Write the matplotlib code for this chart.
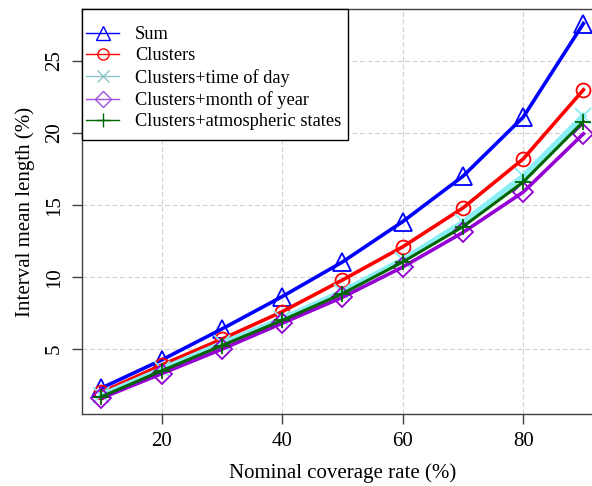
import matplotlib
matplotlib.use("Agg")
import matplotlib.pyplot as plt
from matplotlib.lines import Line2D
from matplotlib.patches import Rectangle

# Nominal coverage rates and interval mean lengths (%)
coverage = [10, 20, 30, 40, 50, 60, 70, 80, 90]
sum_len = [2.3, 4.25, 6.4, 8.65, 11.05, 13.85, 17.0, 21.1, 27.6]
clusters = [2.0, 3.9, 5.7, 7.6, 9.8, 12.1, 14.8, 18.2, 23.0]
clusters_tod = [1.8, 3.6, 5.4, 7.1, 9.0, 11.2, 13.8, 17.0, 21.2]
clusters_moy = [1.6, 3.3, 5.0, 6.8, 8.6, 10.7, 13.1, 15.9, 19.95]
clusters_atm = [1.7, 3.5, 5.25, 7.0, 8.85, 11.05, 13.5, 16.6, 20.8]

labels = ["Sum", "Clusters", "Clusters+time of day",
          "Clusters+month of year", "Clusters+atmospheric states"]
xticks = [20, 40, 60, 80]
yticks = [5, 10, 15, 20, 25]

plt.rcParams["font.family"] = ["Liberation Serif", "DejaVu Serif"]

fig = plt.figure(figsize=(5.92, 4.86), dpi=100)
ax = fig.add_axes([0.1385, 0.148, 0.8796, 0.8333])

series = [
    (sum_len, "#0000FF", "^", 2.6, 13, "#0000FF"),
    (clusters, "#FF0000", "o", 2.6, 10, "#FF0000"),
    (clusters_tod, "#8AEEF5", "x", 4.0, 11, "#8CC4C4"),
    (clusters_moy, "#9400D3", "D", 2.6, 10, "#A050E0"),
    (clusters_atm, "#006400", "+", 2.2, 12, "#006400"),
]

for vals, col, mk, lw, ms, _ in series:
    ax.plot(coverage, vals, color=col, lw=lw, marker=mk, markersize=ms,
            markerfacecolor="none", markeredgecolor=col, markeredgewidth=1.3,
            zorder=3)

ax.set_xlim(6.8, 93.2)
ax.set_ylim(0.5, 28.6)
ax.set_xticks(xticks)
ax.set_yticks(yticks)
ax.grid(True, color="#D3D3D3", linestyle=(0, (4, 2)), linewidth=0.9, zorder=0)
ax.set_axisbelow(True)

for sp in ax.spines.values():
    sp.set_color("#404040")
    sp.set_linewidth(1.0)

ax.tick_params(axis="both", direction="out", length=7, width=1.0,
               color="#404040", labelsize=15, pad=6)
for lbl in ax.get_yticklabels():
    lbl.set_rotation(90)
    lbl.set_va("center")

ax.set_xlabel("Nominal coverage rate (%)", fontsize=15, labelpad=9)
ax.set_ylabel("Interval mean length (%)", fontsize=15, labelpad=7)

# Legend box in the top-left corner of the panel
box = Rectangle((0, 0.6765), 0.511, 0.3235, transform=ax.transAxes,
                facecolor="white", edgecolor="black", linewidth=1.0,
                zorder=4, clip_on=False)
ax.add_patch(box)

handles = [
    Line2D([0], [0], color=lc, lw=1.0, marker=mk, markersize=ms * 0.8,
           markerfacecolor="none", markeredgecolor=lc, markeredgewidth=1.0)
    for _, _, mk, _, ms, lc in series
]
leg = ax.legend(handles, labels, loc="upper left",
                bbox_to_anchor=(0.0077, 0.958), borderaxespad=0,
                borderpad=0, fontsize=13.2, frameon=False,
                handlelength=1.8, handletextpad=0.87, labelspacing=0.24)
leg.set_zorder(5)

fig.savefig("out.png", dpi=100)
